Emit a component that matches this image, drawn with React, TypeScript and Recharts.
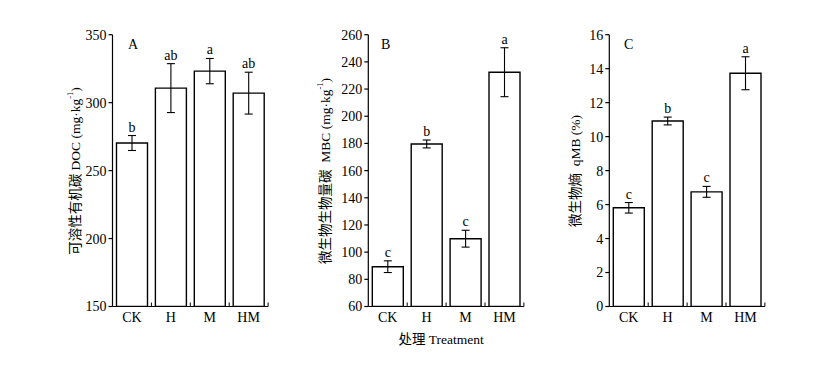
import React from 'react';
import { BarChart, Bar, XAxis, YAxis, ErrorBar, LabelList } from 'recharts';

const categories = ['CK', 'H', 'M', 'HM'];

const docValues = [270.3, 310.7, 323.2, 307.0];
const docErrors = [5.5, 18.0, 9.3, 15.4];
const docLetters = ['b', 'ab', 'a', 'ab'];
const docTicks = [150, 200, 250, 300, 350];

const mbcValues = [89.3, 179.6, 109.9, 232.4];
const mbcErrors = [4.3, 2.9, 6.2, 18.0];
const mbcLetters = ['c', 'b', 'c', 'a'];
const mbcTicks = [60, 80, 100, 120, 140, 160, 180, 200, 220, 240, 260];

const qmbValues = [5.81, 10.92, 6.75, 13.73];
const qmbErrors = [0.31, 0.23, 0.32, 0.97];
const qmbLetters = ['c', 'b', 'c', 'a'];
const qmbTicks = [0, 2, 4, 6, 8, 10, 12, 14, 16];

const FONT = "'Liberation Serif', 'Times New Roman', 'Noto Sans CJK SC', serif";
const W = 836;
const H = 374;
const PLOT_W = 155.6;
const PLOT_TOP = 34.7;
const PLOT_BOTTOM = 306.5;
const Y_AXIS_W = 40;
const X_AXIS_H = 30;
const TICK_MARGIN = 5;
const FS = 14;

const XTick = (props: any) => {
  const { x, y, payload } = props;
  const off = (payload && payload.offset) || PLOT_W / 8;
  const axisY = y - TICK_MARGIN;
  return (
    <g>
      <text x={x} y={axisY + 15} textAnchor="middle" fontSize={FS} fontFamily={FONT} fill="#000">
        {payload.value}
      </text>
      <line x1={x + off} x2={x + off} y1={axisY} y2={axisY - 4} stroke="#000" strokeWidth={1} />
    </g>
  );
};

type PanelProps = {
  values: number[];
  errors: number[];
  letters: string[];
  ticks: number[];
  panelLetter: string;
  cjk: string;
  unit: string;
  sup?: string;
  tail?: string;
  plotLeft: number;
  titleX: number;
  letterX: number;
  xTitle?: string;
};

const Panel = ({ values, errors, letters, ticks, panelLetter, cjk, unit, sup, tail, plotLeft, titleX, letterX, xTitle }: PanelProps) => {
  const data = categories.map((c, i) => ({ cat: c, value: values[i], err: errors[i], letter: letters[i] }));
  const min = ticks[0];
  const max = ticks[ticks.length - 1];
  const titleY = 171;

  const letterContent = (props: any) => {
    const vb = props.viewBox && props.viewBox.width !== undefined ? props.viewBox : props;
    const x = vb.x;
    const y = vb.y;
    const width = vb.width;
    const height = Math.abs(vb.height);
    const idx = props.index;
    const ppu = height / (values[idx] - min);
    const topY = y - errors[idx] * ppu;
    return (
      <text x={x + width / 2} y={topY - 4} textAnchor="middle" fontSize={FS} fontFamily={FONT} fill="#000">
        {letters[idx]}
      </text>
    );
  };

  const titleContent = () => (
    <g>
      <text
        x={titleX}
        y={titleY}
        transform={`rotate(-90 ${titleX} ${titleY})`}
        textAnchor="middle"
        dominantBaseline="central"
        fontSize={13.5}
        fontFamily={FONT}
        fill="#000"
        style={{ whiteSpace: 'pre' }}
      >
        {cjk}
        <tspan>{unit}</tspan>
        {sup ? <tspan dy={-5} fontSize={8.5}>{sup}</tspan> : null}
        {tail ? <tspan dy={sup ? 5 : 0}>{tail}</tspan> : null}
      </text>
      <text x={letterX} y={49} fontSize={FS} fontFamily={FONT} fill="#000">
        {panelLetter}
      </text>
      {xTitle ? (
        <text x={plotLeft + PLOT_W / 2 - 5} y={344} textAnchor="middle" fontSize={13.5} fontFamily={FONT} fill="#000">
          {xTitle}
        </text>
      ) : null}
    </g>
  );

  return (
    <div style={{ position: 'absolute', left: 0, top: 0 }}>
      <BarChart
        width={W}
        height={H}
        data={data}
        margin={{
          top: PLOT_TOP,
          left: plotLeft - Y_AXIS_W,
          right: W - plotLeft - PLOT_W,
          bottom: H - PLOT_BOTTOM - X_AXIS_H,
        }}
      >
        <XAxis
          dataKey="cat"
          height={X_AXIS_H}
          interval={0}
          tickLine={false}
          tickSize={0}
          tickMargin={TICK_MARGIN}
          axisLine={{ stroke: '#000', strokeWidth: 1.2 }}
          tick={<XTick />}
        />
        <YAxis
          width={Y_AXIS_W}
          domain={[min, max]}
          ticks={ticks}
          interval={0}
          allowDataOverflow
          tickSize={4}
          tickMargin={2}
          axisLine={{ stroke: '#000', strokeWidth: 1.2 }}
          tickLine={{ stroke: '#000', strokeWidth: 1.2 }}
          tick={{ fill: '#000', fontSize: FS, fontFamily: FONT }}
          label={{ content: titleContent }}
        />
        <Bar dataKey="value" fill="#fff" stroke="#000" strokeWidth={1.4} barSize={31} isAnimationActive={false}>
          <ErrorBar dataKey="err" width={4} stroke="#000" strokeWidth={1.1} isAnimationActive={false} />
          <LabelList dataKey="letter" content={letterContent} />
        </Bar>
      </BarChart>
    </div>
  );
};

export default function App() {
  return (
    <div style={{ position: 'absolute', left: 0, top: 0, width: W, height: H, background: '#fff' }}>
      <Panel
        values={docValues}
        errors={docErrors}
        letters={docLetters}
        ticks={docTicks}
        panelLetter="A"
        cjk="可溶性有机碳"
        unit=" DOC (mg·kg"
        sup="-1"
        tail=")"
        plotLeft={112.5}
        titleX={75}
        letterX={128}
      />
      <Panel
        values={mbcValues}
        errors={mbcErrors}
        letters={mbcLetters}
        ticks={mbcTicks}
        panelLetter="B"
        cjk="微生物生物量碳"
        unit="  MBC (mg·kg"
        sup="-1"
        tail=")"
        plotLeft={368.3}
        titleX={325}
        letterX={381}
        xTitle="处理 Treatment"
      />
      <Panel
        values={qmbValues}
        errors={qmbErrors}
        letters={qmbLetters}
        ticks={qmbTicks}
        panelLetter="C"
        cjk="微生物熵"
        unit="  qMB (%)"
        plotLeft={609.3}
        titleX={575}
        letterX={624}
      />
    </div>
  );
}
